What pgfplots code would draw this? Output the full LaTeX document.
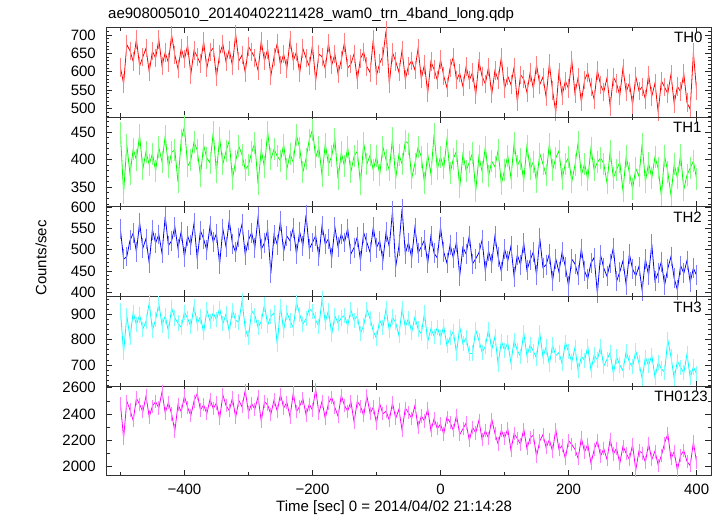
\documentclass[border=0pt]{standalone}
\usepackage{fontspec}
\setmainfont{Liberation Sans}
\usepackage{pgfplots}
\pgfplotsset{compat=1.18}
\usepackage{pgfplotstable}

\definecolor{qred}{rgb}{1,0,0}
\definecolor{qgreen}{rgb}{0,1,0}
\definecolor{qblue}{rgb}{0,0,1}
\definecolor{qcyan}{rgb}{0,1,1}
\definecolor{qmagenta}{rgb}{1,0,1}

\pgfplotstableread{
x th0 th1 th2 th3 th0123
-500 612 448 548 915 2480
-495 568 340 478 748 2215
-490 674 427 484 894 2498
-485 657 374 522 807 2431
-480 628 419 539 908 2349
-475 688 400 495 858 2522
-470 616 444 564 897 2474
-465 640 383 504 841 2417
-460 664 414 526 872 2537
-455 600 391 469 944 2378
-450 656 411 547 837 2460
-445 637 380 516 879 2494
-440 688 422 536 941 2446
-435 616 396 492 857 2570
-430 652 443 578 893 2407
-425 625 386 510 832 2489
-420 700 413 521 924 2400
-415 646 418 554 885 2270
-410 608 359 503 865 2474
-405 663 436 543 848 2417
-400 634 460 483 908 2537
-395 672 388 532 883 2450
-390 593 399 512 852 2388
-385 658 432 562 931 2498
-380 641 417 479 863 2556
-375 622 371 545 891 2431
-370 682 426 525 827 2470
-365 610 403 499 917 2402
-360 653 394 556 872 2513
-355 665 449 518 905 2441
-350 586 377 538 878 2484
-345 648 439 466 923 2364
-340 675 392 549 862 2546
-335 627 415 507 901 2465
-330 660 434 569 831 2426
-325 617 365 514 915 2522
-320 703 397 494 876 2374
-315 629 424 529 867 2503
-310 646 409 560 954 2455
-305 598 382 488 842 2580
-300 669 390 523 807 2412
-295 654 413 540 913 2479
-290 638 430 505 896 2436
-285 604 356 576 849 2532
-280 683 418 501 871 2345
-275 630 386 516 938 2494
-270 661 450 547 857 2470
-265 589 401 445 891 2398
-260 641 419 536 905 2508
-255 677 406 512 780 2422
-250 619 398 567 930 2551
-245 648 427 496 837 2446
-240 609 383 532 907 2489
-235 686 410 521 874 2378
-230 630 395 551 846 2561
-225 654 444 490 947 2417
-220 596 421 542 899 2460
-215 663 377 509 860 2518
-210 637 402 582 882 2393
-205 615 436 502 921 2474
-200 672 454 517 910 2431
-195 575 404 533 877 2590
-190 648 422 484 851 2407
-185 641 371 557 961 2498
-180 608 429 513 868 2364
-175 678 391 526 916 2484
-170 618 406 480 821 2527
-165 648 438 553 893 2450
-160 594 365 506 865 2383
-155 632 413 537 885 2542
-150 680 388 517 896 2465
-145 610 422 550 853 2422
-140 621 378 490 917 2495
-135 649 406 505 876 2338
-130 578 415 530 893 2497
-125 636 356 474 824 2459
-120 654 430 540 856 2388
-115 614 392 517 919 2538
-110 598 408 494 882 2404
-105 688 381 553 832 2453
-100 590 406 505 805 2329
-95 623 373 521 877 2479
-90 642 423 475 848 2401
-85 712 399 541 922 2422
-80 567 381 507 835 2352
-75 652 439 590 889 2485
-70 628 366 460 866 2367
-65 599 409 508 816 2436
-60 659 392 596 922 2275
-55 579 433 491 849 2445
-50 616 429 517 884 2409
-45 630 366 481 829 2368
-40 605 393 552 888 2464
-35 664 422 493 842 2298
-30 581 405 507 823 2385
-25 620 357 523 905 2347
-20 542 410 468 792 2440
-15 628 374 532 843 2273
-10 606 446 492 813 2365
-5 577 383 481 848 2289
0 633 405 553 807 2324
5 589 384 495 852 2248
10 557 436 469 777 2374
15 611 375 512 809 2336
20 640 402 481 832 2275
25 577 415 519 746 2391
30 596 350 439 851 2243
35 560 410 506 784 2287
40 614 380 490 807 2331
45 577 395 533 744 2197
50 598 412 467 747 2299
55 537 343 479 838 2256
60 628 406 493 797 2353
65 587 378 523 750 2205
70 567 423 450 773 2273
75 613 370 497 841 2216
80 539 397 468 761 2361
85 603 387 532 812 2252
90 578 417 483 703 2171
95 639 356 449 794 2277
100 554 381 502 758 2216
105 588 407 474 787 2288
110 565 367 508 709 2125
115 613 430 437 797 2251
120 518 389 488 756 2212
125 592 401 465 734 2170
130 580 362 516 827 2285
135 544 425 452 736 2137
140 598 383 476 779 2218
145 554 396 495 754 2238
150 619 360 441 727 2075
155 565 411 528 826 2195
160 586 392 458 732 2243
165 531 372 465 771 2143
170 622 429 490 702 2205
175 549 381 427 779 2115
180 490 403 479 737 2283
185 599 416 448 749 2130
190 536 365 495 705 2159
195 575 393 460 790 2059
200 554 404 415 752 2198
205 632 360 478 712 2167
210 541 390 467 769 2131
215 585 431 440 677 2061
220 518 372 503 734 2217
225 577 393 450 718 2110
230 598 364 432 772 2170
235 559 421 469 679 2024
240 525 381 482 739 2127
245 604 395 398 720 2197
250 564 403 488 772 2080
255 545 393 457 695 2135
260 583 358 438 722 2055
265 506 415 468 749 2207
270 586 367 505 666 2095
275 568 382 426 733 2140
280 535 395 448 700 2022
285 610 344 474 678 2155
290 545 406 418 753 2100
295 570 376 490 711 2054
300 510 347 455 693 2167
305 587 384 439 755 1973
310 548 370 461 708 2119
315 559 429 404 646 2102
320 525 360 478 731 2033
325 592 394 440 698 2174
330 533 367 513 738 2052
335 569 405 427 652 2117
340 490 384 446 710 2010
345 575 334 472 685 2084
350 558 407 417 672 2178
355 541 378 456 800 2250
360 593 336 484 732 2058
365 513 392 433 647 2113
370 560 367 406 715 1972
375 546 409 463 691 2085
380 595 346 445 669 2121
385 516 372 475 743 2038
390 498 385 424 650 2006
395 652 397 457 692 2186
400 548 365 440 665 2030
}\lc

\tikzset{lbl/.style={anchor=north east, inner sep=0pt, yshift=-5pt}}

\pgfplotsset{
  panel/.style={
    scale only axis, width=605pt, height=89.7pt,
    anchor=north west,
    xmin=-522.5, xmax=422.5,
    xtick={-400,-200,0,200,400},
    minor xtick={-500,-300,-100,100,300},
    xticklabels={},
    tick align=inside, xtick pos=both, ytick pos=both,
    major tick length=6pt, minor tick length=3.5pt,
    tick style={black!85, line width=0.7pt},
    axis line style={black!80, line width=0.9pt},
    axis on top,
    /pgf/number format/assume math mode=true,
    /pgf/number format/1000 sep={},
    yticklabel style={xshift=-5pt},
    xticklabel style={yshift=-2.7pt},
  },
  ebar/.style 2 args={only marks, mark=|, mark size=#2,
    mark options={#1!50, line width=0.8pt}, forget plot},
  dline/.style={#1, line width=0.8pt},
}

\begin{document}
\fontsize{15}{17}\selectfont
\begin{tikzpicture}
\useasboundingbox (0,0) rectangle (723pt,516pt);

% TH0
\begin{axis}[panel, at={(106pt,488.7pt)}, ymin=477, ymax=721,
  ytick={500,550,600,650,700}, minor ytick={480,490,...,720}]
\addplot[ebar={qred}{9.2pt}] table[x=x,y=th0]{\lc};
\addplot[dline=qred] table[x=x,y=th0]{\lc};
\node[lbl, xshift=-8.3pt] at (rel axis cs:1,1) {TH0};
\end{axis}

% TH1
\begin{axis}[panel, at={(106pt,399.0pt)}, ymin=315, ymax=477,
  ytick={350,400,450}, minor ytick={320,330,...,470}]
\addplot[ebar={qgreen}{11pt}] table[x=x,y=th1]{\lc};
\addplot[dline=qgreen] table[x=x,y=th1]{\lc};
\node[lbl, xshift=-9.3pt] at (rel axis cs:1,1) {TH1};
\end{axis}

% TH2
\begin{axis}[panel, at={(106pt,309.3pt)}, ymin=390.7, ymax=601,
  ytick={400,450,500,550,600}, minor ytick={400,410,...,600}]
\addplot[ebar={qblue}{9.9pt}] table[x=x,y=th2]{\lc};
\addplot[dline=qblue] table[x=x,y=th2]{\lc};
\node[lbl, xshift=-9pt] at (rel axis cs:1,1) {TH2};
\end{axis}

% TH3
\begin{axis}[panel, at={(106pt,219.6pt)}, ymin=617, ymax=970,
  ytick={700,800,900}, minor ytick={620,640,...,960}]
\addplot[ebar={qcyan}{7.6pt}] table[x=x,y=th3]{\lc};
\addplot[dline=qcyan] table[x=x,y=th3]{\lc};
\node[lbl, xshift=-9pt] at (rel axis cs:1,1) {TH3};
\end{axis}

% TH0123
\begin{axis}[panel, at={(106pt,129.9pt)}, ymin=1929, ymax=2613,
  ytick={2000,2200,2400,2600}, minor ytick={2000,2100,...,2600},
  xticklabels={−400,−200,0,200,400}, xticklabel pos=lower]
\addplot[ebar={qmagenta}{6.6pt}] table[x=x,y=th0123]{\lc};
\addplot[dline=qmagenta] table[x=x,y=th0123]{\lc};
\node[lbl, xshift=-3pt] at (rel axis cs:1,1) {TH0123};
\end{axis}

\node[anchor=base west, inner sep=0pt] at (108pt,497pt)
  {ae908005010\_20140402211428\_wam0\_trn\_4band\_long.qdp};
\node[anchor=base west, inner sep=0pt] at (276pt,4.3pt)
  {Time [sec] 0 = 2014/04/02 21:14:28};
\node[rotate=90, inner sep=0pt] at (41pt,258pt) {Counts/sec};
\end{tikzpicture}
\end{document}
